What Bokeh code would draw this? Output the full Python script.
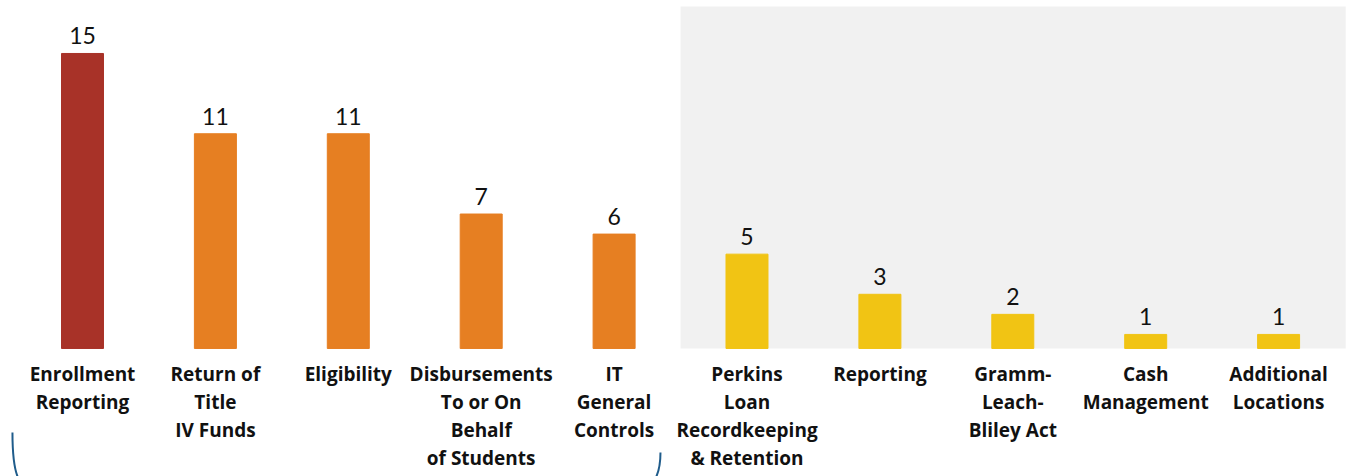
from bokeh.plotting import figure
from bokeh.models import ColumnDataSource
from bokeh.core.properties import value
from bokeh.embed import file_html
from bokeh.resources import INLINE

categories = ["Enrollment\nReporting", "Return of\nTitle\nIV Funds", "Eligibility",
              "Disbursements\nTo or On\nBehalf\nof Students", "IT\nGeneral\nControls",
              "Perkins\nLoan\nRecordkeeping\n& Retention", "Reporting", "Gramm-\nLeach-\nBliley Act",
              "Cash\nManagement", "Additional\nLocations"]
counts = [15, 11, 11, 7, 6, 5, 3, 2, 1, 1]
colors = ["#A83228", "#E67F22", "#E67F22", "#E67F22", "#E67F22",
          "#F1C414", "#F1C414", "#F1C414", "#F1C414", "#F1C414"]

xs = list(range(len(categories)))
src = ColumnDataSource(dict(x=xs, top=counts, color=colors, cat=categories,
                            lab=[str(c) for c in counts]))

p = figure(width=1348, height=476, output_backend="svg", toolbar_location=None,
           x_range=(-0.617, 9.526), y_range=(-6.08, 17.64),
           x_axis_location=None, y_axis_location=None, min_border=0)
p.outline_line_color = None
p.xgrid.visible = False
p.ygrid.visible = False
p.background_fill_color = "white"

# shaded region behind the second group
p.quad(left=[4.5], right=[9.505], bottom=[0.3], top=[17.34], fill_color="#F1F1F1", line_color=None)

p.vbar(x="x", top="top", bottom=0.3, width=0.316, color="color", source=src)

p.text(x="x", y="top", text="lab", source=src, text_align="center", text_baseline="bottom",
       y_offset=-9, text_font=value("Lato"), text_font_size="23px", text_color="#111111")

p.text(x="x", y=-0.3, text="cat", source=src, text_align="center", text_baseline="top",
       text_font=value("Open Sans"), text_font_style="bold", text_font_size="19px",
       text_line_height=1.08, text_color="#111111")

# bracket decoration under the first group
p.bezier(x0=[-0.527, 4.349], y0=[-3.89, -4.88], x1=[-0.482, 4.311], y1=[-6.18, -6.18],
         cx0=[-0.527, 4.349], cy0=[-5.03, -5.53], cx1=[-0.512, 4.334], cy1=[-5.78, -5.88],
         line_color="#1F5C8B", line_width=2)

open("out.html", "w").write(file_html(p, INLINE))
